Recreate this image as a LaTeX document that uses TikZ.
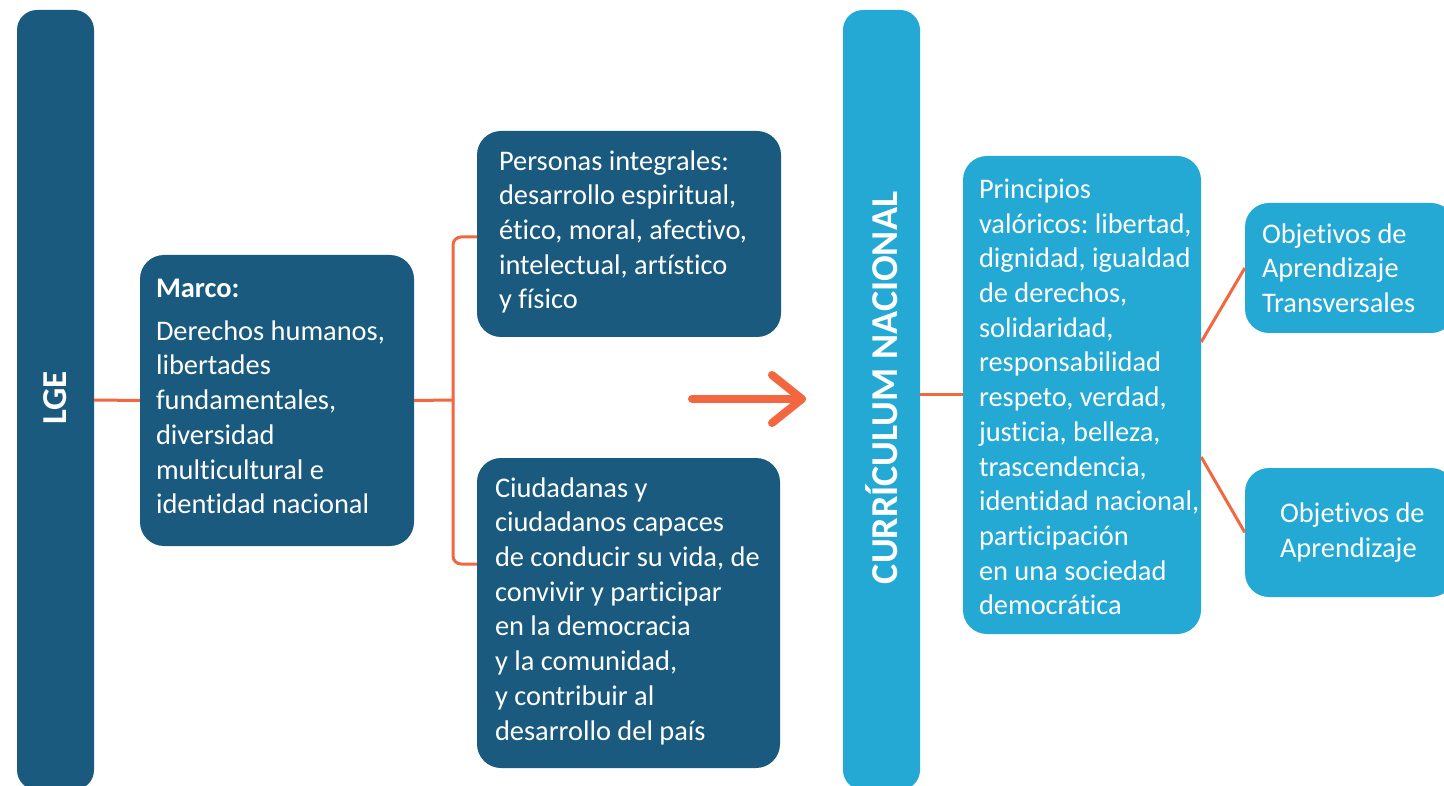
\documentclass[tikz,border=0pt]{standalone}
\usepackage{fontspec}
\setmainfont{Carlito}[Ligatures=NoCommon]
\frenchspacing
\usetikzlibrary{calc}
\definecolor{dblue}{HTML}{1A5A7E}
\definecolor{lblue}{HTML}{24A9D5}
\definecolor{orng}{HTML}{F26640}
\begin{document}
\begin{tikzpicture}[x=1pt,y=-1pt,
  box/.style={rounded corners=24pt, inner sep=0pt, draw=none},
  bar/.style={rounded corners=20pt, inner sep=0pt, draw=none},
  txt/.style={text=white, align=left, inner sep=0pt, anchor=west, font=\fontsize{28.4}{34.7}\selectfont},
  vlabel/.style={text=white, rotate=90, inner sep=0pt, font=\bfseries\fontsize{35}{40}\selectfont},
  conn/.style={draw=orng, line width=3pt},
  bigarrow/.style={draw=orng, line width=8pt, line cap=round, line join=round}
]
\path[use as bounding box, clip] (0,0) rectangle (1444,786);
\fill[white] (0,0) rectangle (1444,786);

% bars
\node[bar, fill=dblue, minimum width=77pt, minimum height=780pt] (lge) at (55.5,400) {};
\node[vlabel] (lget) at (55,398) {LGE};
\node[bar, fill=lblue, minimum width=77pt, minimum height=780pt] (curr) at (881.5,400) {};
\node[vlabel, font=\bfseries\fontsize{38}{42}\selectfont] (currt) at (882,388) {CURRÍCULUM NACIONAL};

% Marco
\node[box, fill=dblue, minimum width=274pt, minimum height=291pt] (marco) at (277,400.5) {};
\node[txt] (marcot) at ([xshift=16pt,yshift=4pt]marco.west) {\textbf{Marco:}\\[8pt]
Derechos humanos,\\libertades\\fundamentales,\\diversidad\\multicultural e\\identidad nacional};

% Personas
\node[box, fill=dblue, minimum width=304pt, minimum height=206pt] (pers) at (629,234) {};
\node[txt] (perst) at ([xshift=22pt,yshift=2pt]pers.west) {Personas integrales:\\desarrollo espiritual,\\ético, moral, afectivo,\\intelectual, artístico\\y físico};

% Ciudadanas
\node[box, fill=dblue, minimum width=303pt, minimum height=310pt] (ciud) at (628.5,613) {};
\node[txt] (ciudt) at ([xshift=18pt,yshift=2pt]ciud.west) {Ciudadanas y\\ciudadanos capaces\\de conducir su vida, de\\convivir y participar\\en la democracia\\y la comunidad,\\y contribuir al\\desarrollo del país};

% Principios
\node[box, fill=lblue, minimum width=238pt, minimum height=478pt] (princ) at (1082,395) {};
\node[txt] (princt) at ([xshift=16pt,yshift=-2pt]princ.west) {Principios\\valóricos: libertad,\\dignidad, igualdad\\de derechos,\\solidaridad,\\responsabilidad\\respeto, verdad,\\justicia, belleza,\\trascendencia,\\identidad nacional,\\participación\\en una sociedad\\democrática};

% Objetivos
\node[box, fill=lblue, minimum width=210pt, minimum height=130pt] (obj1) at (1350,268) {};
\node[txt] (obj1t) at ([xshift=17pt]obj1.west) {Objetivos de\\Aprendizaje\\Transversales};
\node[box, fill=lblue, minimum width=210pt, minimum height=129pt] (obj2) at (1350,532.5) {};
\node[txt] (obj2t) at ([xshift=35pt]obj2.west) {Objetivos de\\Aprendizaje};

% connectors
\coordinate (jx) at (453,400);
\draw[conn] (lge.east) -- (marco.west);
\draw[conn] (marco.east) -- (jx);
\draw[conn, rounded corners=8pt] ([yshift=-3pt]pers.west) -| (jx) |- ([yshift=49pt]ciud.west);
\draw[conn] (curr.east |- princ.west) -- (princ.west);
\draw[conn] ([yshift=53pt]princ.east) -- (obj1.west);
\draw[conn] ([yshift=-62pt]princ.east) -- (obj2.west);

% big arrow
\coordinate (a1) at (692,399);
\coordinate (a2) at (802,399);
\draw[bigarrow] (a1) -- (a2);
\draw[bigarrow] ($(a2)+(-30,-24)$) -- (a2) -- ($(a2)+(-30,24)$);
\end{tikzpicture}
\end{document}
